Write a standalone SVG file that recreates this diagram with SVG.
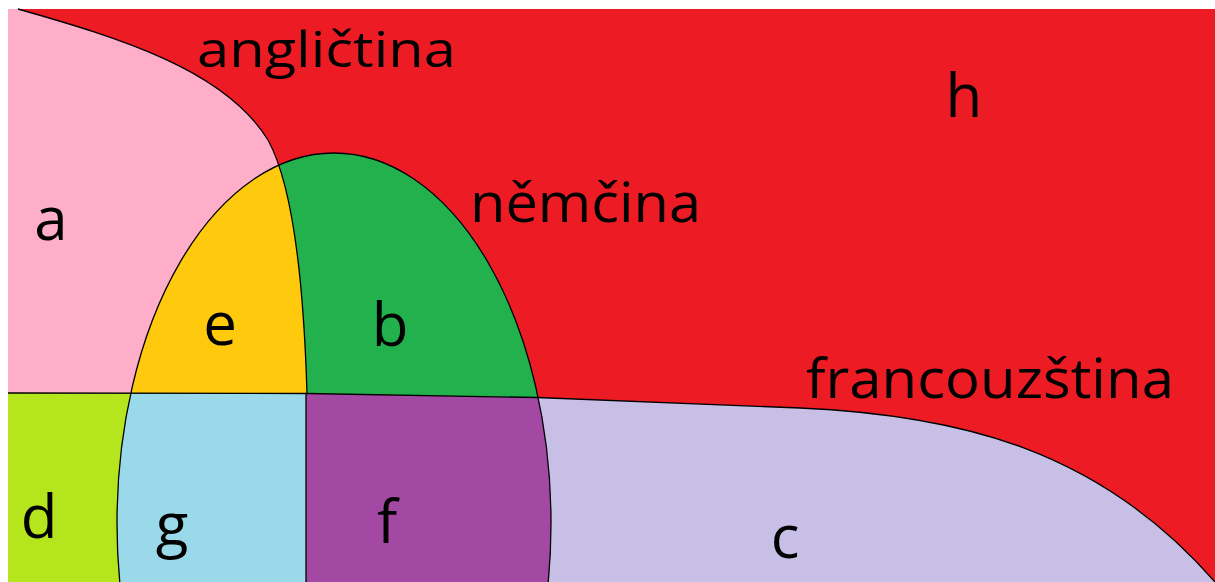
<svg xmlns="http://www.w3.org/2000/svg" width="1215" height="582" viewBox="0 0 1215 582">
  <style>
    .edge { fill: none; stroke: #000; stroke-width: 1.3; }
    .word { font-family: "Open Sans", "Noto Sans", sans-serif; fill: #000; }
    .letter { font-family: "Open Sans", "Noto Sans", sans-serif; font-size: 60px; fill: #000; text-anchor: middle; }
  </style>
  <defs>
    <path id="pinkShape" d="M8,9 L18,9 C120,38 225,70 268,140 C290,180 303,260 307,393.5 L8,393 Z"/>
    <clipPath id="clipPink"><use href="#pinkShape"/></clipPath>
    <clipPath id="clipTop"><polygon points="0,0 1215,0 1215,397.5 537,397.5 307,393.5 0,393"/></clipPath>
    <clipPath id="clipBottomLeft"><polygon points="0,393 306,393.5 306,582 0,582"/></clipPath>
    <clipPath id="clipBottomRight"><polygon points="306,393.5 537,397.5 600,398 600,582 306,582"/></clipPath>
    <ellipse id="german" cx="334" cy="523" rx="217" ry="370"/>
  </defs>

  <rect x="0" y="0" width="1215" height="582" fill="#ffffff"/>

  <g id="region-h">
    <rect x="8" y="9" width="1207" height="573" fill="#ED1C24"/>
  </g>

  <g id="region-c">
    <path d="M8,393 L307,393.5 L537,397.5 L800,408 C960,415 1100,450 1215,582 L8,582 Z" fill="#C8BFE7"/>
  </g>

  <g id="region-d">
    <polygon points="8,393 306,393.5 306,582 8,582" fill="#B5E61D"/>
  </g>

  <g id="region-a">
    <use href="#pinkShape" fill="#FFAEC9"/>
  </g>

  <g id="region-b">
    <use href="#german" fill="#22B14C" clip-path="url(#clipTop)"/>
  </g>
  <g id="region-e">
    <use href="#german" fill="#FFC90E" clip-path="url(#clipPink)"/>
  </g>
  <g id="region-g">
    <use href="#german" fill="#99D9EA" clip-path="url(#clipBottomLeft)"/>
  </g>
  <g id="region-f">
    <use href="#german" fill="#A349A4" clip-path="url(#clipBottomRight)"/>
  </g>

  <g id="connectors">
    <path class="edge" d="M18,9 C120,38 225,70 268,140 C290,180 303,260 307,393.5"/>
    <ellipse class="edge" cx="334" cy="523" rx="217" ry="370"/>
    <path class="edge" d="M8,393 L307,393.5 L537,397.5 L800,408 C960,415 1100,450 1215,582"/>
    <line class="edge" x1="306" y1="393.5" x2="306" y2="582"/>
  </g>

  <g id="labels">
    <text class="word" x="197" y="67" font-size="49" textLength="259" lengthAdjust="spacingAndGlyphs">angličtina</text>
    <text class="word" x="470" y="222" font-size="55" textLength="231" lengthAdjust="spacingAndGlyphs">němčina</text>
    <text class="word" x="806" y="398" font-size="55" textLength="368" lengthAdjust="spacingAndGlyphs">francouzština</text>
    <text class="letter" x="964" y="117">h</text>
    <text class="letter" x="51" y="240">a</text>
    <text class="letter" x="220" y="345">e</text>
    <text class="letter" x="390" y="346">b</text>
    <text class="letter" x="39" y="538">d</text>
    <text class="letter" x="172" y="546">g</text>
    <text class="letter" x="387" y="543">f</text>
    <text class="letter" x="785" y="558">c</text>
  </g>
</svg>
